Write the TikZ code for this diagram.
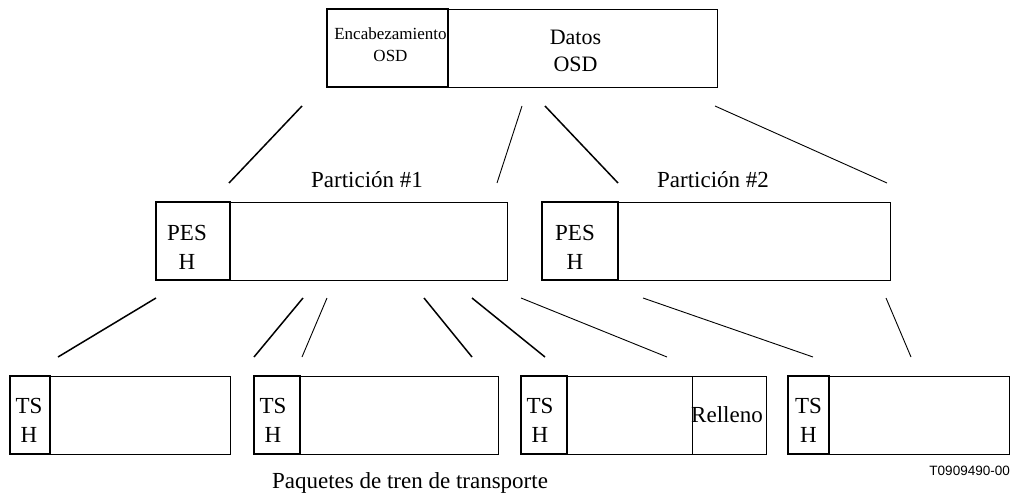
\documentclass[tikz,border=0pt]{standalone}
\usepackage{fontspec}
\setmainfont{Liberation Serif}
\newfontfamily\sansf{Liberation Sans}
\newcommand{\bigtxt}{\fontsize{23}{29}\selectfont}
\newcommand{\midtxt}{\fontsize{22}{27}\selectfont}
\newcommand{\smalltxt}{\fontsize{17}{22}\selectfont}
\begin{document}
\begin{tikzpicture}[x=1pt,y=-1pt,
  cell/.style={draw, line width=0.9pt, inner sep=0pt, outer sep=0pt, anchor=north west, minimum height=78pt},
  hcell/.style={cell, line width=1.5pt},
  lbl/.style={inner sep=0pt, align=center, font=\bigtxt},
  thickln/.style={line width=1.5pt},
  thinln/.style={line width=0.9pt}]
\useasboundingbox (0,0) rectangle (1018,495);
% top box
\node[cell, minimum width=269pt] (osdd) at (448,9) {};
\node[hcell, minimum width=121pt] (osdh) at (327,9) {};
\node[lbl, font=\smalltxt] (osdhT) at ([xshift=3pt,yshift=3pt]osdh.center) {Encabezamiento\\OSD};
\node[lbl, font=\midtxt] (osddT) at ([xshift=-7pt,yshift=-3pt]osdd.center) {Datos\\OSD};
% partitions
\node[cell, minimum width=277pt] (p1d) at (230,202) {};
\node[hcell, minimum width=74pt] (p1h) at (156,202) {};
\node[cell, minimum width=272pt] (p2d) at (618,202) {};
\node[hcell, minimum width=76pt] (p2h) at (542,202) {};
\node[lbl] (p1hT) at ([xshift=-6pt,yshift=-6.5pt]p1h.center) {PES\\H};
\node[lbl] (p2hT) at ([xshift=-5pt,yshift=-6.5pt]p2h.center) {PES\\H};
\node[lbl, anchor=base] (part1) at (367,187) {Partición \#1};
\node[lbl, anchor=base] (part2) at (713,187) {Partición \#2};
% transport packets
\node[cell, minimum width=180pt] (t1d) at (50,376) {};
\node[hcell, minimum width=40pt] (t1h) at (10,376) {};
\node[cell, minimum width=198pt] (t2d) at (300,376) {};
\node[hcell, minimum width=46pt] (t2h) at (254,376) {};
\node[cell, minimum width=125pt] (t3d) at (567,376) {};
\node[cell, minimum width=74pt] (t3r) at (692,376) {};
\node[hcell, minimum width=46pt] (t3h) at (521,376) {};
\node[cell, minimum width=180pt] (t4d) at (829,376) {};
\node[hcell, minimum width=41pt] (t4h) at (788,376) {};
\node[lbl] (t1hT) at ([xshift=-1pt,yshift=-5pt]t1h.center) {TS\\H};
\node[lbl] (t2hT) at ([xshift=-4pt,yshift=-5pt]t2h.center) {TS\\H};
\node[lbl] (t3hT) at ([xshift=-4pt,yshift=-5pt]t3h.center) {TS\\H};
\node[lbl] (t4hT) at ([xshift=0pt,yshift=-5pt]t4h.center) {TS\\H};
\node[lbl] (t3rT) at ([xshift=-2pt]t3r.center) {Relleno};
\node[lbl, anchor=base] (cap) at (410,488) {Paquetes de tren de transporte};
\node[inner sep=0pt, anchor=base east, font=\sansf\fontsize{13.5}{15}\selectfont] (fig) at (1010,475) {T0909490-00};
% connector end points
\coordinate (a1s) at (302,106); \coordinate (a1e) at (229,183);
\coordinate (a2s) at (522,106); \coordinate (a2e) at (497,183);
\coordinate (a3s) at (545,106); \coordinate (a3e) at (618,183);
\coordinate (a4s) at (715,106); \coordinate (a4e) at (887,183);
\coordinate (b1s) at (156,298); \coordinate (b1e) at (58,357);
\coordinate (b2s) at (303,298); \coordinate (b2e) at (254,357);
\coordinate (b3s) at (327,298); \coordinate (b3e) at (302,357);
\coordinate (b4s) at (424,298); \coordinate (b4e) at (472,357);
\coordinate (b5s) at (472,298); \coordinate (b5e) at (545,357);
\coordinate (b6s) at (521,298); \coordinate (b6e) at (667,357);
\coordinate (b7s) at (643,298); \coordinate (b7e) at (813,357);
\coordinate (b8s) at (886,298); \coordinate (b8e) at (911,357);
\draw[thickln] (a1s) -- (a1e);
\draw[thinln] (a2s) -- (a2e);
\draw[thickln] (a3s) -- (a3e);
\draw[thinln] (a4s) -- (a4e);
\draw[thickln] (b1s) -- (b1e);
\draw[thickln] (b2s) -- (b2e);
\draw[thinln] (b3s) -- (b3e);
\draw[thickln] (b4s) -- (b4e);
\draw[thickln] (b5s) -- (b5e);
\draw[thinln] (b6s) -- (b6e);
\draw[thinln] (b7s) -- (b7e);
\draw[thinln] (b8s) -- (b8e);
\end{tikzpicture}
\end{document}
